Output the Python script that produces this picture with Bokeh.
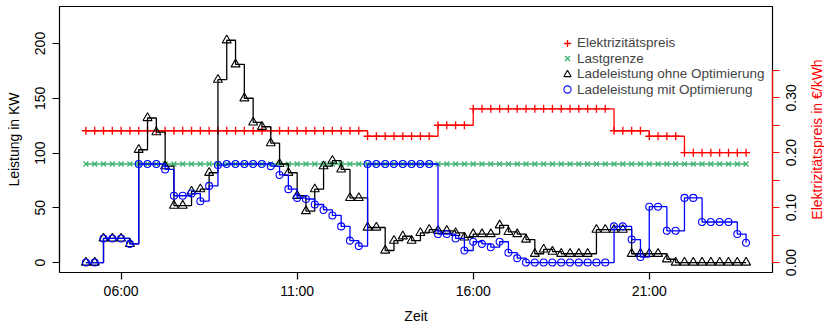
import math
from bokeh.plotting import figure
from bokeh.layouts import row
from bokeh.models import Range1d, LinearAxis, FixedTicker, Legend, LegendItem
from bokeh.core.properties import value
from bokeh.embed import file_html
from bokeh.resources import INLINE

# ---------------- data ----------------
# time axis: 05:00 .. 23:45 in 15-minute steps (hours as numbers)
zeit_start = 5.0
zeit_schritt = 0.25
zeit = [zeit_start + zeit_schritt * i for i in range(76)]

zeit_ticks = [6, 11, 16, 21]
zeit_labels = ["06:00", "11:00", "16:00", "21:00"]

# electricity price (EUR/kWh)
preis = [0.24, 0.24, 0.24, 0.24, 0.24, 0.24, 0.24, 0.24, 0.24, 0.24,
         0.24, 0.24, 0.24, 0.24, 0.24, 0.24, 0.24, 0.24, 0.24, 0.24,
         0.24, 0.24, 0.24, 0.24, 0.24, 0.24, 0.24, 0.24, 0.24, 0.24,
         0.24, 0.24, 0.23, 0.23, 0.23, 0.23, 0.23, 0.23, 0.23, 0.23,
         0.25, 0.25, 0.25, 0.25, 0.28, 0.28, 0.28, 0.28, 0.28, 0.28,
         0.28, 0.28, 0.28, 0.28, 0.28, 0.28, 0.28, 0.28, 0.28, 0.28,
         0.24, 0.24, 0.24, 0.24, 0.23, 0.23, 0.23, 0.23, 0.20, 0.20,
         0.20, 0.20, 0.20, 0.20, 0.20, 0.20]

# load limit (kW)
lastgrenze_wert = 90
lastgrenze = [lastgrenze_wert] * len(zeit)

# charging power without optimisation (kW)
ohne = [0, 0, 22, 22, 22, 17, 103, 132, 119, 88,
        52, 52, 65, 67, 82, 167, 203, 181, 150, 128,
        124, 109, 90, 82, 61, 47, 67, 88, 93, 85,
        59, 59, 32, 32, 11, 20, 24, 20, 27, 30,
        29, 29, 27, 23, 26, 26, 26, 34, 28, 26,
        21, 8, 12, 10, 8, 8, 8, 8, 30, 30,
        30, 30, 8, 8, 8, 8, 3, 0, 0, 0,
        0, 0, 0, 0, 0, 0]

# charging power with optimisation (kW)
mit = [0, 0, 22, 22, 22, 17, 90, 90, 90, 85,
       61, 61, 63, 56, 70, 89, 90, 90, 90, 90,
       90, 88, 80, 67, 59, 58, 53, 48, 43, 33,
       20, 15, 90, 90, 90, 90, 90, 90, 90, 90,
       26, 26, 22, 11, 19, 17, 14, 19, 9, 4,
       0, 0, 0, 0, 0, 0, 0, 0, 0, 0,
       33, 33, 21, 5, 51, 51, 29, 29, 59, 59,
       37, 37, 37, 37, 26, 18]

leistung_ticks = [0, 50, 100, 150, 200]
leistung_labels = ["0", "50", "100", "150", "200"]
preis_ticks = [0, 0.05, 0.1, 0.15, 0.2, 0.25, 0.3, 0.35]
preis_label_werte = [0, 0.1, 0.2, 0.3]
preis_label_texte = ["0.00", "0.10", "0.20", "0.30"]

legend_labels = ["Elektrizitätspreis", "Lastgrenze",
                 "Ladeleistung ohne Optimierung", "Ladeleistung mit Optimierung"]
x_titel = "Zeit"
y_titel = "Leistung in KW"
y2_titel = "Elektrizitätspreis in €/kWh"

# ---------------- layout / styling ----------------
FONT = "Liberation Sans"
FS = "14px"
ROT = "#FF0000"
GRUEN = "#3CB371"
BLAU = "#0000FF"
SCHWARZ = "#000000"

H = 326
WL, W1, WR = 50, 732, 42          # left label panel, main plot, right label panel
BL, BR, BT, BB = 9, 10, 6, 54     # borders of the main plot (frame 59..772 x 6..272)
FH = H - BT - BB

y_leistung = Range1d(-9.1, 233.8)
y_preis = Range1d(-0.0182, 0.4663)


def panel_range(rng):
    """Range for a full-height side panel that lines up with the main frame."""
    per = (rng.end - rng.start) / FH
    return Range1d(rng.start - BB * per, rng.end + BT * per)


p = figure(width=W1, height=H, output_backend="svg", toolbar_location=None, title=None,
           x_range=Range1d(4.25, 24.5), y_range=y_leistung,
           min_border_left=BL, min_border_right=BR,
           min_border_top=BT, min_border_bottom=BB)
p.frame_align = False
p.extra_y_ranges = {"preis": y_preis}

p.xgrid.visible = False
p.ygrid.visible = False
p.outline_line_color = "black"
p.outline_line_width = 1.2
p.background_fill_color = "white"
p.border_fill_color = "white"


def style_axis(ax):
    ax.major_label_text_font = FONT
    ax.major_label_text_font_size = FS
    ax.major_label_text_color = "black"
    ax.axis_label_text_font = FONT
    ax.axis_label_text_font_size = FS
    ax.axis_label_text_font_style = "normal"
    ax.axis_label_text_color = "black"
    ax.major_tick_in = 0
    ax.major_tick_out = 7
    ax.minor_tick_line_color = None
    ax.axis_line_width = 1.2
    ax.major_tick_line_width = 1.2


def ticks_only(ax):
    ax.major_label_text_font_size = "1px"
    ax.major_label_text_color = None
    ax.major_label_standoff = 0


xa = p.xaxis[0]
style_axis(xa)
xa.ticker = FixedTicker(ticks=zeit_ticks)
xa.major_label_overrides = dict(zip(zeit_ticks, zeit_labels))
xa.bounds = (zeit_ticks[0], zeit_ticks[-1])
xa.major_label_standoff = 3
xa.axis_label = x_titel
xa.axis_label_standoff = 6

ya = p.yaxis[0]
style_axis(ya)
ya.ticker = FixedTicker(ticks=leistung_ticks)
ya.bounds = (leistung_ticks[0], leistung_ticks[-1])
ticks_only(ya)

ra = LinearAxis(y_range_name="preis")
style_axis(ra)
ra.ticker = FixedTicker(ticks=preis_ticks)
ra.bounds = (preis_ticks[0], preis_ticks[-1])
ra.axis_line_color = ROT
ra.major_tick_line_color = ROT
ticks_only(ra)
p.add_layout(ra, "right")

# ---------------- glyphs ----------------
LW = 1.3
p.step(zeit, preis, mode="after", line_color=ROT, line_width=LW, y_range_name="preis")
r_preis = p.scatter(zeit, preis, marker="cross", size=8, line_color=ROT,
                    line_width=LW, y_range_name="preis")

p.line(zeit, lastgrenze, line_color=GRUEN, line_width=LW)
r_last = p.scatter(zeit, lastgrenze, marker="x", size=7, line_color=GRUEN, line_width=LW)

p.step(zeit, ohne, mode="after", line_color=SCHWARZ, line_width=LW)
r_ohne = p.scatter(zeit, ohne, marker="triangle", size=9, fill_color=None,
                   line_color=SCHWARZ, line_width=1.1)

p.step(zeit, mit, mode="after", line_color=BLAU, line_width=LW)
r_mit = p.scatter(zeit, mit, marker="circle", size=7, fill_color=None,
                  line_color=BLAU, line_width=1.1)

# ---------------- legend (one row each, positioned individually) ----------------
rows = [r_preis, r_last, r_ohne, r_mit]
ROW_H = 20
LEG_FS = "13.5px"
for k, (lab, r) in enumerate(zip(legend_labels, rows)):
    centre = 42.5 + 15.6 * k - BT          # row centre below the frame top
    leg = Legend(items=[LegendItem(label=lab, renderers=[r])],
                 location=(499, FH - centre - ROW_H / 2),
                 border_line_color=None, background_fill_alpha=0,
                 padding=0, margin=0, spacing=0,
                 glyph_width=18, glyph_height=ROW_H, label_height=ROW_H,
                 label_standoff=1, label_text_font=FONT,
                 label_text_font_size=LEG_FS)
    p.add_layout(leg)


# ---------------- side panels with rotated texts (no axes, full-height frame) ----------------
def side_panel(width, rng):
    f = figure(width=width, height=H, output_backend="svg", toolbar_location=None,
               title=None, x_axis_location=None, y_axis_location=None,
               x_range=Range1d(0, width), y_range=panel_range(rng),
               min_border=0, min_border_left=0, min_border_right=0,
               min_border_top=0, min_border_bottom=0)
    f.frame_align = False
    f.xgrid.visible = False
    f.ygrid.visible = False
    f.outline_line_color = None
    f.background_fill_color = "white"
    f.border_fill_color = "white"
    return f


pl = side_panel(WL, y_leistung)
pl.text(x=[39] * len(leistung_ticks), y=leistung_ticks, text=leistung_labels,
        angle=math.pi / 2, text_align="center", text_baseline="middle",
        text_font=value(FONT), text_font_size=value(FS), text_color="black")
pl.text(x=[13.5], y=[(y_leistung.start + y_leistung.end) / 2], text=[y_titel],
        angle=math.pi / 2, text_align="center", text_baseline="middle",
        text_font=value(FONT), text_font_size=value(FS), text_color="black")

pr = side_panel(WR, y_preis)
pr.text(x=[8] * len(preis_label_werte), y=preis_label_werte, text=preis_label_texte,
        angle=math.pi / 2, text_align="center", text_baseline="middle",
        text_font=value(FONT), text_font_size=value(FS), text_color="black")
pr.text(x=[34], y=[(y_preis.start + y_preis.end) / 2], text=[y2_titel],
        angle=math.pi / 2, text_align="center", text_baseline="middle",
        text_font=value(FONT), text_font_size=value(FS), text_color=ROT)

layout = row(pl, p, pr, spacing=0)
open("out.html", "w").write(file_html(layout, INLINE))
